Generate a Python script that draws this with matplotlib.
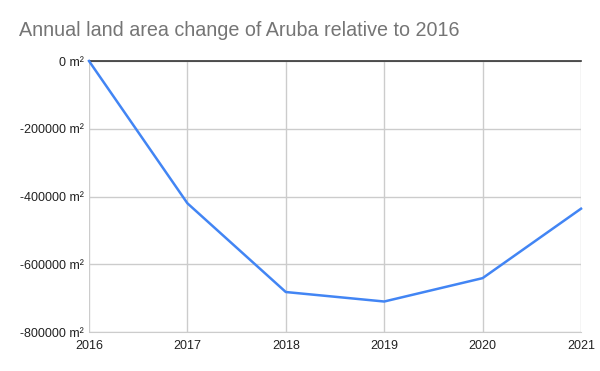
import matplotlib
matplotlib.use('Agg')
import matplotlib.pyplot as plt

plt.rcParams['font.family'] = ['Liberation Sans', 'DejaVu Sans']

years = [2016, 2017, 2018, 2019, 2020, 2021]
change = [0, -420000, -682000, -710000, -641000, -436000]
yticks = [0, -200000, -400000, -600000, -800000]

fig = plt.figure(figsize=(6, 3.71), dpi=100)
ax = fig.add_axes([89 / 600, 1 - 332 / 371, (581 - 89) / 600, (332 - 61) / 371])

ax.plot(years, change, color='#4285f4', linewidth=1.8, zorder=3, clip_on=False)

ax.set_xlim(2016, 2021)
ax.set_ylim(-800000, 0)
ax.set_xticks(years)
ax.set_yticks(yticks)
ax.set_yticklabels(['{} m²'.format(v) for v in yticks])
ax.grid(True, color='#cccccc', linewidth=1)
ax.axhline(0, color='#333333', linewidth=1.2, zorder=2, clip_on=False)

for s in ['top', 'right', 'left']:
    ax.spines[s].set_visible(False)
ax.spines['bottom'].set_color('#cccccc')
ax.tick_params(length=0, labelsize=9, colors='#222222', pad=4)
ax.tick_params(axis='x', pad=6)

fig.text(19 / 600, 1 - 31 / 371, 'Annual land area change of Aruba relative to 2016',
         fontsize=14.2, color='#757575', va='center', ha='left')

fig.savefig('out.png', dpi=100)
